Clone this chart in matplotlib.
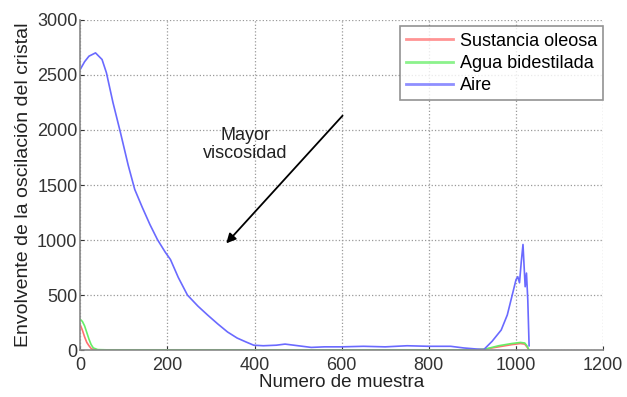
import matplotlib
matplotlib.use("Agg")
import matplotlib.pyplot as plt

plt.rcParams['font.family'] = ['Liberation Sans', 'DejaVu Sans']

# Envelope of the crystal oscillation for each medium
aire_x = [0, 10, 20, 35, 50, 60, 75, 92, 110, 125, 142, 160, 177, 195, 207, 225, 246,
          270, 292, 315, 338, 360, 380, 398, 420, 450, 470, 500, 530, 560, 600, 650,
          700, 750, 800, 850, 880, 910, 926, 945, 966, 980, 990, 996, 1000, 1004, 1008,
          1012, 1016, 1018, 1021, 1024, 1027, 1030]
aire_y = [2550, 2620, 2670, 2700, 2640, 2520, 2250, 1980, 1680, 1460, 1300, 1140, 1005,
          890, 823, 660, 500, 400, 320, 240, 165, 110, 75, 45, 40, 45, 55, 40, 25, 30, 30,
          35, 30, 40, 35, 35, 20, 10, 5, 80, 183, 320, 480, 576, 640, 667, 612, 800, 960,
          804, 576, 700, 457, 40]

oleosa_x = [0, 5, 10, 15, 20, 25, 30, 40, 60, 200, 400, 600, 800, 900, 930, 960, 990,
            1010, 1020, 1025, 1030]
oleosa_y = [230, 180, 120, 70, 40, 15, 5, 2, 0, 0, 0, 0, 0, 0, 10, 30, 50, 60, 55, 30, 0]

agua_x = [0, 5, 10, 15, 20, 25, 30, 40, 60, 200, 400, 600, 800, 900, 930, 960, 990,
          1010, 1020, 1025, 1030]
agua_y = [280, 260, 220, 160, 100, 50, 20, 5, 3, 3, 3, 3, 3, 3, 10, 40, 60, 70, 65, 40, 0]

fig = plt.figure(figsize=(6.27, 3.97), dpi=100)
ax = fig.add_axes([0.128, 0.118, 0.834, 0.832])

ax.plot(oleosa_x, oleosa_y, color='#ff7070', lw=1.2, label='Sustancia oleosa')
ax.plot(agua_x, agua_y, color='#66ee66', lw=1.2, label='Agua bidestilada')
ax.plot(aire_x, aire_y, color='#6a6aff', lw=1.2, label='Aire')

ax.set_xlim(0, 1200)
ax.set_ylim(0, 3000)
ax.set_xticks(range(0, 1201, 200))
ax.set_yticks(range(0, 3001, 500))
ax.grid(True, linestyle=':', color='#999999', lw=0.9)
ax.tick_params(direction='in', length=3, labelsize=13, colors='#333333', pad=2)
ax.tick_params(axis='x', pad=5)
for s in ['top', 'right']:
    ax.spines[s].set_visible(False)
for s in ['left', 'bottom']:
    ax.spines[s].set_color('#888888')
    ax.spines[s].set_linewidth(1.2)

ax.set_xlabel('Numero de muestra', fontsize=13.5, labelpad=0, color='#222222')
ax.set_ylabel('Envolvente de la oscilación del cristal', fontsize=14, labelpad=4,
              color='#222222')

ax.annotate('', xy=(335, 970), xytext=(602, 2130),
            arrowprops=dict(arrowstyle='-|>', color='black', lw=1.3,
                            mutation_scale=14, shrinkA=0, shrinkB=0))
ax.text(379, 1870, 'Mayor\nviscosidad', ha='center', va='center', fontsize=13,
        color='#222222', linespacing=1.1)

leg = ax.legend(loc='upper right', bbox_to_anchor=(1.0, 0.98), fontsize=13,
                frameon=True, fancybox=False, borderpad=0.35, labelspacing=0.28,
                handlelength=2.6, handletextpad=0.35, borderaxespad=0)
leg.get_frame().set_edgecolor('#777777')
leg.get_frame().set_linewidth(1.2)
for h in leg.get_lines():
    h.set_linewidth(2.0)
    h.set_alpha(0.75)

fig.savefig('out.png', dpi=100)
